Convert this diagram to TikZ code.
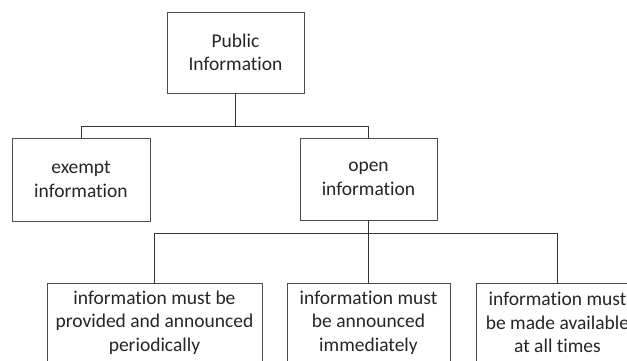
\documentclass[tikz,border=0pt]{standalone}
\usepackage{fontspec}
\setmainfont{Carlito}[Ligatures=NoCommon]
\begin{document}
\begin{tikzpicture}[x=1pt,y=-1pt,
  box/.style={draw=black!70, line width=0.9pt, rectangle, inner sep=0pt, align=center,
    text=black!85, font=\fontsize{19.5}{23.5}\selectfont},
  link/.style={draw=black!80, line width=0.9pt}]
\useasboundingbox[fill=white] (0,0) rectangle (627,360);
\node[box, minimum width=137pt, minimum height=81pt] (top) at (235.5,52.5) {Public\\Information};
\node[box, minimum width=138pt, minimum height=83pt] (exempt) at (81,179.5) {exempt\\information};
\node[box, minimum width=137pt, minimum height=82pt] (open) at (368.5,179) {open\\information};
\node[box, minimum width=215pt, minimum height=79pt] (b1) at (154.5,322.5) {information must be\\provided and announced\\periodically};
\node[box, minimum width=163pt, minimum height=79pt] (b2) at (368.5,322.5) {information must\\be announced\\immediately};
\node[box, minimum width=163pt, minimum height=79pt] (b3) at (557.5,322.5) {information must\\be made available\\at all times};
\coordinate (bus1) at (0,126);
\coordinate (bus2) at (0,233);
\draw[link] (exempt.north) |- (bus1 -| open.north) -- (open.north);
\draw[link] (top.south) -- (top.south |- bus1);
\draw[link] (b1.north) |- (bus2 -| b3.north) -- (b3.north);
\draw[link] (open.south) -- (b2.north);
\end{tikzpicture}
\end{document}
